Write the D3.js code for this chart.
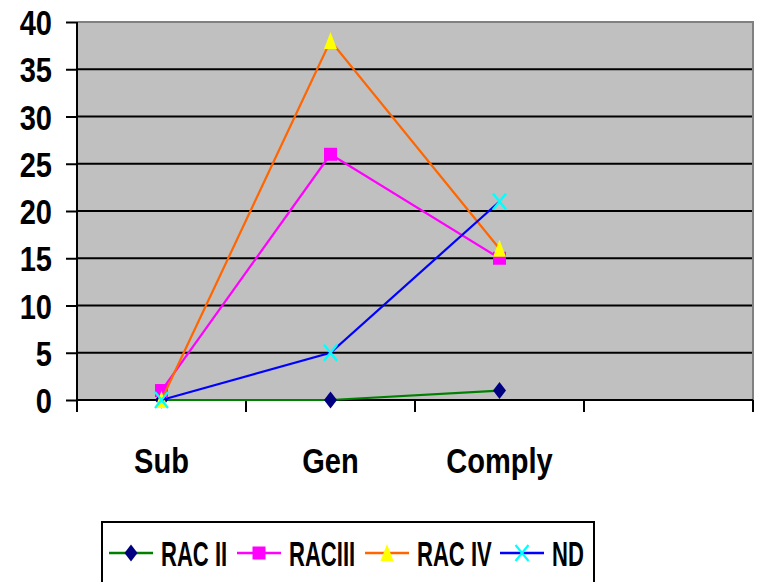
<!DOCTYPE html>
<html>
<head>
<meta charset="utf-8">
<script src="https://cdn.jsdelivr.net/npm/d3@7"></script>
<style>
  html, body { margin: 0; padding: 0; background: #fff; }
  svg { display: block; }
  text { font-family: "Liberation Sans", Arial, sans-serif; font-weight: bold; fill: #000; }
</style>
</head>
<body>
<svg id="chart" width="761" height="582"></svg>
<script>
// Categories (the fourth slot is an empty category on the axis)
const categories = ["Sub", "Gen", "Comply", " "];
const seriesNames = ["RAC II", "RACIII", "RAC IV", "ND"];
const racII  = [0, 0, 1];
const racIII = [1, 26, 15];
const racIV  = [0, 38, 16];
const nd     = [0, 5, 21];
const yTicks = [0, 5, 10, 15, 20, 25, 30, 35, 40];

const series = [
  { name: seriesNames[0], values: racII,  line: "#008000", marker: "diamond",  fill: "#000080" },
  { name: seriesNames[1], values: racIII, line: "#FF00FF", marker: "square",   fill: "#FF00FF" },
  { name: seriesNames[2], values: racIV,  line: "#FF6600", marker: "triangle", fill: "#FFFF00" },
  { name: seriesNames[3], values: nd,     line: "#0000FF", marker: "x",        fill: "#00FFFF" }
];

const FONT_SIZE = "35px";
const NARROW_AXIS = 0.83;    // horizontal condensing of the axis labels
const NARROW_LEGEND = 0.63;  // legend entries are set tighter still

const svg = d3.select("#chart");
const plot = { left: 77, top: 22, right: 753, bottom: 400 };

const x = d3.scaleBand().domain(categories).range([plot.left, plot.right]).padding(0);
const y = d3.scaleLinear().domain([0, 40]).range([plot.bottom, plot.top]);
const cx = c => x(c) + x.bandwidth() / 2;

// Squeeze text horizontally to a narrow face
function condense(sel, factor) {
  sel.each(function () {
    const w = this.getComputedTextLength();
    if (w > 0) {
      d3.select(this).attr("textLength", w * factor).attr("lengthAdjust", "spacingAndGlyphs");
    }
  });
}

// Plot background
svg.append("rect")
  .attr("x", plot.left).attr("y", plot.top)
  .attr("width", plot.right - plot.left).attr("height", plot.bottom - plot.top)
  .attr("fill", "#C0C0C0");

// Horizontal gridlines
svg.append("g").selectAll("line")
  .data(yTicks.filter(t => t > 0 && t < 40))
  .join("line")
  .attr("x1", plot.left).attr("x2", plot.right)
  .attr("y1", d => y(d)).attr("y2", d => y(d))
  .attr("stroke", "#000").attr("stroke-width", 2);

// Top and right borders of the plot area
svg.append("path")
  .attr("d", `M${plot.left},${plot.top}H${plot.right}V${plot.bottom}`)
  .attr("fill", "none").attr("stroke", "#808080").attr("stroke-width", 2);

// Y axis
const yAxis = svg.append("g")
  .attr("transform", `translate(${plot.left},0)`)
  .call(d3.axisLeft(y).tickValues(yTicks).tickSize(11).tickPadding(14));
yAxis.select(".domain").attr("stroke", "#000").attr("stroke-width", 2)
  .attr("d", `M0,${plot.top}V${plot.bottom + 12}`);
yAxis.selectAll(".tick line").attr("stroke", "#000").attr("stroke-width", 2);
yAxis.selectAll(".tick text")
  .style("font-size", FONT_SIZE).attr("dy", "0.36em")
  .call(condense, NARROW_AXIS);

// X axis: tick marks on category boundaries, labels centred in each band
const xAxis = svg.append("g").attr("transform", `translate(0,${plot.bottom})`);
xAxis.append("line")
  .attr("x1", plot.left).attr("x2", plot.right)
  .attr("stroke", "#000").attr("stroke-width", 2);
const boundaries = categories.map(c => x(c)).concat([plot.right]);
xAxis.selectAll("line.tick").data(boundaries).join("line")
  .attr("class", "tick")
  .attr("x1", d => d).attr("x2", d => d)
  .attr("y1", 0).attr("y2", 12)
  .attr("stroke", "#000").attr("stroke-width", 2);
xAxis.selectAll("text").data(categories).join("text")
  .attr("x", d => cx(d)).attr("y", 73)
  .attr("text-anchor", "middle")
  .style("font-size", FONT_SIZE)
  .text(d => d)
  .call(condense, NARROW_AXIS);

// Marker shapes
function drawMarker(g, type, fill) {
  if (type === "diamond") {
    g.append("path").attr("d", "M0,-8.5L6.5,0L0,8.5L-6.5,0Z").attr("fill", fill);
  } else if (type === "square") {
    g.append("rect").attr("x", -6.5).attr("y", -6.5)
      .attr("width", 13).attr("height", 13).attr("fill", fill);
  } else if (type === "triangle") {
    g.append("path").attr("d", "M0,-9L6.5,8L-6.5,8Z").attr("fill", fill);
  } else if (type === "x") {
    g.append("path").attr("d", "M-6.5,-8L6.5,8M-6.5,8L6.5,-8")
      .attr("stroke", fill).attr("stroke-width", 2.2).attr("fill", "none");
  }
}

// Series lines and markers
const line = d3.line().x((d, i) => cx(categories[i])).y(d => y(d));
series.forEach(s => {
  const g = svg.append("g");
  g.append("path").datum(s.values)
    .attr("d", line).attr("fill", "none")
    .attr("stroke", s.line).attr("stroke-width", 2.2);
  s.values.forEach((v, i) => {
    const m = g.append("g").attr("transform", `translate(${cx(categories[i])},${y(v)})`);
    drawMarker(m, s.marker, s.fill);
  });
});

// Legend
const legend = svg.append("g");
legend.append("rect")
  .attr("x", 102).attr("y", 522).attr("width", 492).attr("height", 70)
  .attr("fill", "#fff").attr("stroke", "#000").attr("stroke-width", 2);
const legendX = [109, 237, 365, 500];
series.forEach((s, i) => {
  const g = legend.append("g").attr("transform", `translate(${legendX[i]},553)`);
  g.append("line").attr("x1", 0).attr("x2", 44).attr("stroke", s.line).attr("stroke-width", 2.5);
  const m = g.append("g").attr("transform", "translate(22,0)");
  drawMarker(m, s.marker, s.fill);
  g.append("text").attr("x", 52).attr("y", 12.5)
    .style("font-size", FONT_SIZE).text(s.name)
    .call(condense, NARROW_LEGEND);
});
</script>
</body>
</html>
